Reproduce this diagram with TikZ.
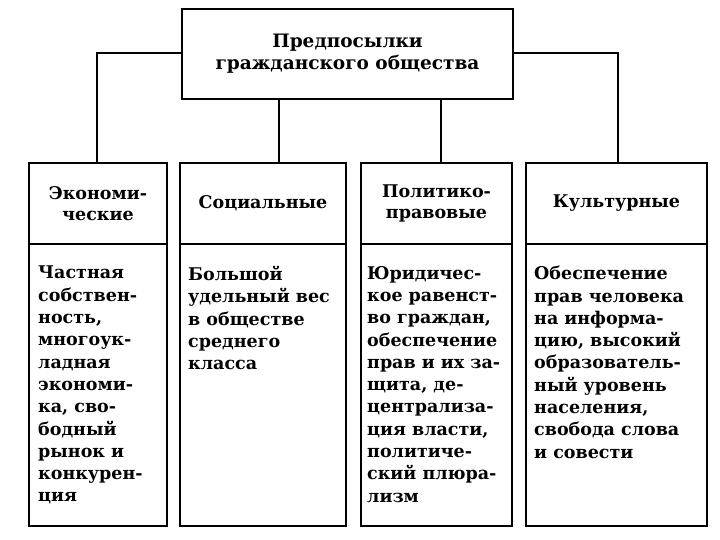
\documentclass[tikz,border=0pt]{standalone}
\usepackage{fontspec}
\setmainfont{DejaVu Serif}
\begin{document}
\begin{tikzpicture}[x=1pt,y=-1pt,
  box/.style={draw, line width=1.3pt, inner sep=0pt, outer sep=0pt, anchor=north west},
  lbl/.style={inner sep=0pt, align=center, font=\bfseries\fontsize{17.5}{21.5}\selectfont},
  body/.style={inner sep=0pt, anchor=north west, align=left, font=\bfseries\fontsize{17.5}{22.3}\selectfont},
  conn/.style={line width=1.3pt}]
\useasboundingbox (0,0) rectangle (720,540);
\node[box, minimum width=331pt, minimum height=90pt] (top) at (182,9) {};
\node[lbl, font=\bfseries\fontsize{18.5}{22}\selectfont] (toptxt) at (top.center) {Предпосылки\\гражданского общества};
% column headers
\node[box, minimum width=138pt, minimum height=81pt] (h1) at (29,163) {};
\node[box, minimum width=166pt, minimum height=81pt] (h2) at (180,163) {};
\node[box, minimum width=151pt, minimum height=81pt] (h3) at (361,163) {};
\node[box, minimum width=181pt, minimum height=81pt] (h4) at (526,163) {};
\node[box, minimum width=138pt, minimum height=282pt] (b1) at (29,244) {};
\node[box, minimum width=166pt, minimum height=282pt] (b2) at (180,244) {};
\node[box, minimum width=151pt, minimum height=282pt] (b3) at (361,244) {};
\node[box, minimum width=181pt, minimum height=282pt] (b4) at (526,244) {};
\node[lbl] (t1) at (h1.center) {Экономи-\\ческие};
\node[lbl] (t2) at (h2.center) {Социальные};
\node[lbl] (t3) at (h3.center) {Политико-\\правовые};
\node[lbl] (t4) at (h4.center) {Культурные};
\node[body] (x1) at (38,266) {Частная\\собствен-\\ность,\\многоук-\\ладная\\экономи-\\ка, сво-\\бодный\\рынок и\\конкурен-\\ция};
\node[body] (x2) at (188,266) {Большой\\удельный вес\\в обществе\\среднего\\класса};
\node[body] (x3) at (367,266) {Юридичес-\\кое равенст-\\во граждан,\\обеспечение\\прав и их за-\\щита, де-\\централиза-\\ция власти,\\политиче-\\ский плюра-\\лизм};
\node[body] (x4) at (534,266) {Обеспечение\\прав человека\\на информа-\\цию, высокий\\образователь-\\ный уровень\\населения,\\свобода слова\\и совести};
% connectors
\coordinate (cl) at (97,53);
\coordinate (cr) at (618,53);
\draw[conn] (top.west |- cl) -- (cl) -- (cl |- h1.north);
\draw[conn] (top.east |- cr) -- (cr) -- (cr |- h4.north);
\draw[conn] (279,99) -- (279,163);
\draw[conn] (441,99) -- (441,163);
\end{tikzpicture}
\end{document}
